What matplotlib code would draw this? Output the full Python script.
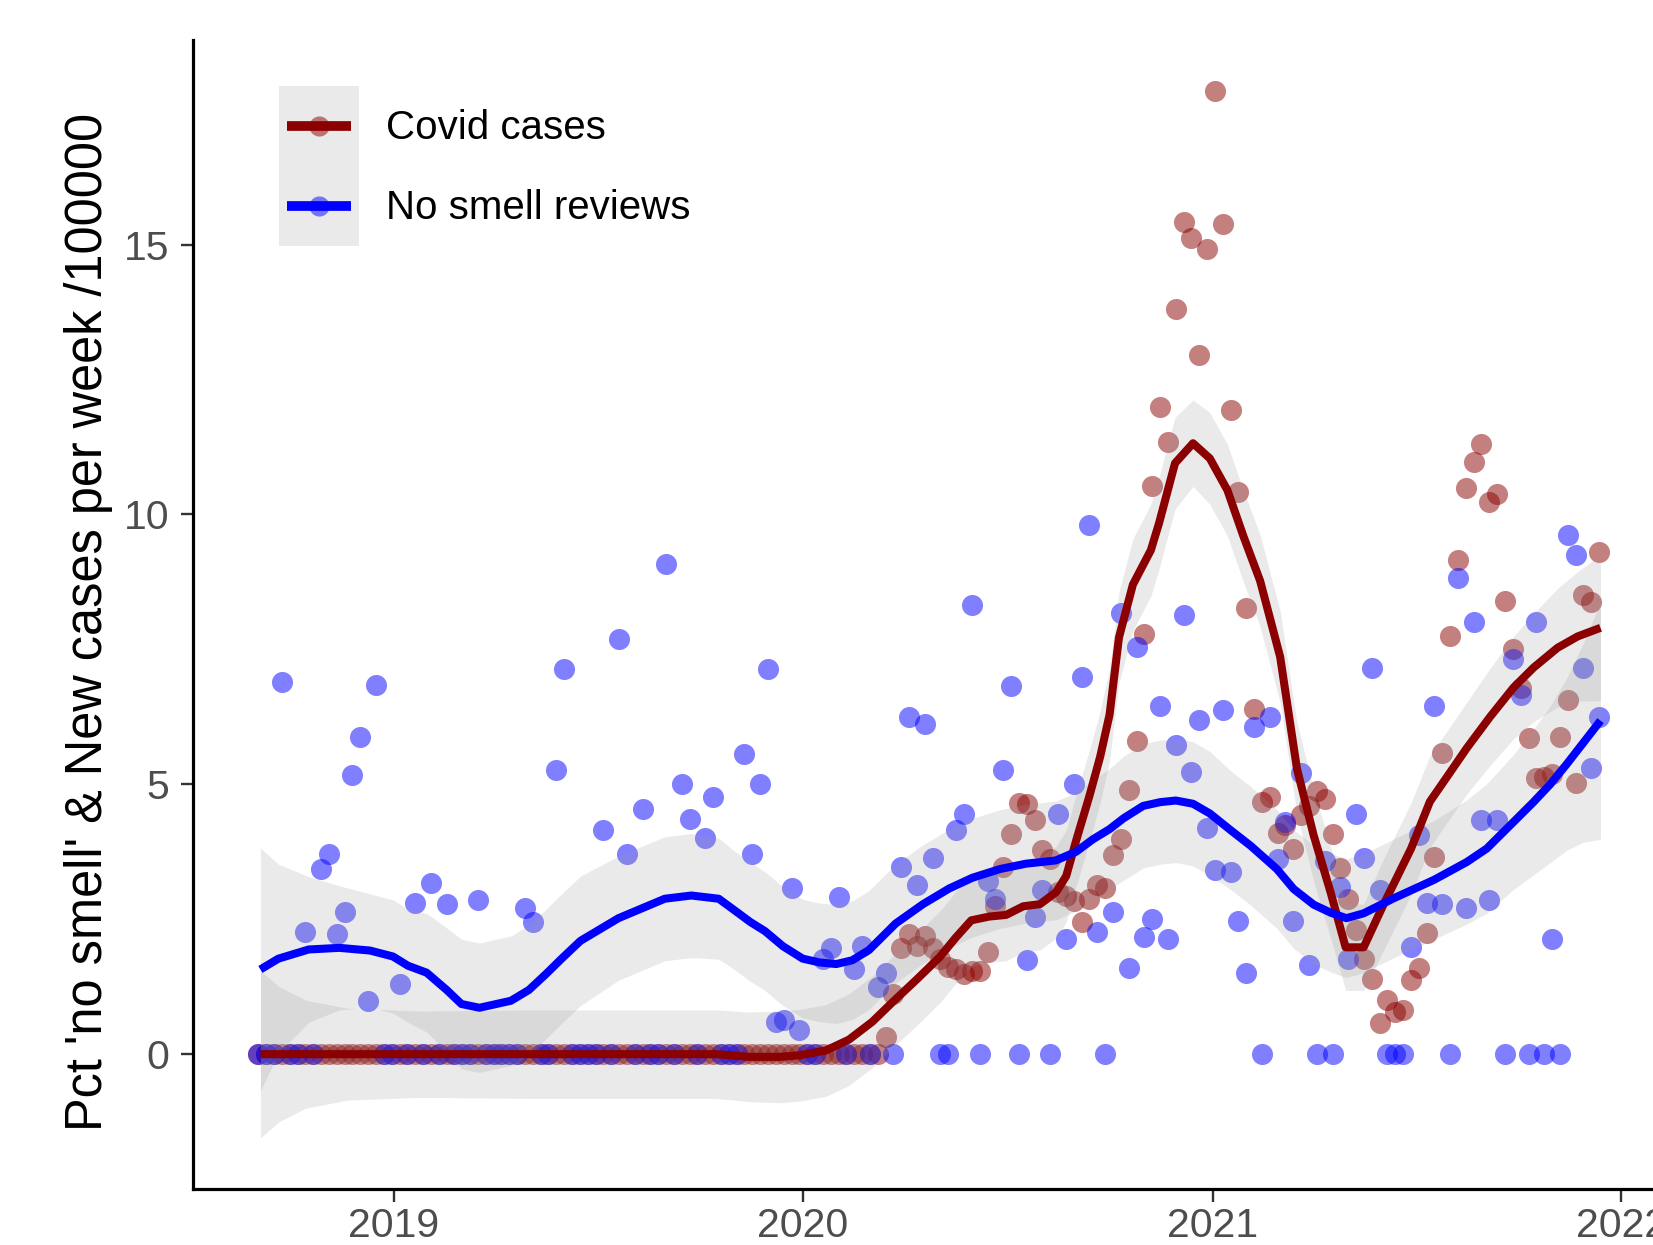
import matplotlib
matplotlib.use("Agg")
import matplotlib.pyplot as plt
import matplotlib.dates as mdates
import pandas as pd
from matplotlib.patches import Rectangle
from matplotlib.lines import Line2D

DARKRED = "#8B0000"
BLUE = "#0000FF"
RIBBON = "#999999"
plt.rcParams["font.family"] = ["Liberation Sans", "DejaVu Sans"]

# weekly observations
weeks = pd.date_range("2018-09-02", periods=172, freq="7D")

covid_cases = [
    0, 0, 0, 0, 0, 0, 0, 0, 0, 0, 0, 0, 0, 0, 0, 0, 0, 0, 0, 0,
    0, 0, 0, 0, 0, 0, 0, 0, 0, 0, 0, 0, 0, 0, 0, 0, 0, 0, 0, 0,
    0, 0, 0, 0, 0, 0, 0, 0, 0, 0, 0, 0, 0, 0, 0, 0, 0, 0, 0, 0,
    0, 0, 0, 0, 0, 0, 0, 0, 0, 0, 0, 0, 0, 0, 0, 0, 0, 0, 0, 0,
    0.31, 1.12, 1.96, 2.23, 2.00, 2.19, 1.96, 1.77, 1.61, 1.58,
    1.48, 1.54, 1.54, 1.90, 2.75, 3.46, 4.08, 4.66, 4.63, 4.34,
    3.78, 3.62, 3.00, 2.94, 2.84, 2.45, 2.87, 3.13, 3.07, 3.69,
    3.98, 4.89, 5.80, 7.78, 10.53, 12.00, 11.35, 13.81, 15.42, 15.13,
    12.95, 14.92, 17.85, 15.38, 11.94, 10.42, 8.26, 6.39, 4.67, 4.76,
    4.10, 4.25, 3.80, 4.43, 4.60, 4.88, 4.72, 4.08, 3.45, 2.87,
    2.31, 1.76, 1.40, 0.57, 1.01, 0.78, 0.82, 1.38, 1.59, 2.25,
    3.65, 5.58, 7.74, 9.16, 10.49, 10.98, 11.31, 10.23, 10.38, 8.40,
    7.50, 6.79, 5.85, 5.11, 5.13, 5.19, 5.88, 6.56, 5.03, 8.50,
    8.38, 9.30,
]

no_smell = [
    0, 0, 0, 6.89, 0, 0, 2.27, 0, 3.44, 3.70,
    2.22, 2.63, 5.17, 5.88, 0.98, 6.84, 0, 0, 1.30, 0,
    2.81, 0, 3.18, 0, 2.78, 0, 0, 0, 2.86, 0,
    0, 0, 0, 0, 2.70, 2.44, 0, 0, 5.26, 7.14,
    0, 0, 0, 0, 4.16, 0, 7.69, 3.70, 0, 4.55,
    0, 0, 9.09, 0, 5.00, 4.35, 0, 4.00, 4.76, 0,
    0, 0, 5.56, 3.70, 5.00, 7.14, 0.60, 0.63, 3.07, 0.45,
    0, 0, 1.77, 1.96, 2.91, 0, 1.58, 2.00, 0, 1.25,
    1.51, 0, 3.46, 6.25, 3.13, 6.12, 3.63, 0, 0, 4.16,
    4.45, 8.33, 0, 3.20, 2.87, 5.26, 6.82, 0, 1.75, 2.55,
    3.05, 0, 4.45, 2.14, 5.00, 6.98, 9.80, 2.27, 0, 2.63,
    8.17, 1.59, 7.55, 2.17, 2.51, 6.45, 2.13, 5.73, 8.14, 5.23,
    6.20, 4.19, 3.41, 6.38, 3.37, 2.47, 1.51, 6.06, 0, 6.25,
    3.62, 4.31, 2.47, 5.21, 1.65, 0, 3.58, 0, 3.09, 1.76,
    4.45, 3.64, 7.16, 3.04, 0, 0, 0, 1.98, 4.07, 2.80,
    6.45, 2.78, 0, 8.83, 2.71, 8.00, 4.34, 2.86, 4.34, 0,
    7.33, 6.66, 0, 8.00, 0, 2.13, 0, 9.62, 9.25, 7.16,
    5.30, 6.25,
]

# loess fits (decimal year, fit, half width of the band)
covid_fit_t = [
    2018.673, 2018.719, 2018.784, 2018.887, 2019.067, 2019.325, 2019.582,
    2019.789, 2019.869, 2019.943, 2019.992, 2020.057, 2020.113, 2020.170,
    2020.219, 2020.278, 2020.335, 2020.374, 2020.412, 2020.456, 2020.497,
    2020.539, 2020.580, 2020.619, 2020.644, 2020.668, 2020.701, 2020.727,
    2020.750, 2020.773, 2020.807, 2020.851, 2020.871, 2020.910, 2020.954,
    2020.995, 2021.036, 2021.075, 2021.116, 2021.165, 2021.206, 2021.247,
    2021.289, 2021.325, 2021.369, 2021.415, 2021.485, 2021.531, 2021.572,
    2021.621, 2021.678, 2021.735, 2021.784, 2021.843, 2021.892, 2021.948,
]
covid_fit = [
    0.0, 0.0, 0.0, 0.0, 0.0, 0.0, 0.0,
    0.0, -0.05, -0.05, -0.02, 0.07, 0.27, 0.60,
    0.96, 1.38, 1.80, 2.16, 2.48, 2.55, 2.58,
    2.74, 2.78, 3.00, 3.30, 3.95, 4.79, 5.51,
    6.29, 7.72, 8.70, 9.34, 9.84, 10.95, 11.32,
    11.04, 10.45, 9.60, 8.77, 7.36, 5.29, 4.05,
    2.98, 1.98, 1.98, 2.73, 3.81, 4.68, 5.13,
    5.67, 6.25, 6.79, 7.16, 7.53, 7.74, 7.90,
]
covid_se = [
    1.55, 1.25, 1.0, 0.85, 0.8, 0.82, 0.82,
    0.82, 0.83, 0.85, 0.85, 0.85, 0.85, 0.85,
    0.85, 0.85, 0.85, 0.85, 0.85, 0.85, 0.85,
    0.85, 0.85, 0.85, 0.85, 0.85, 0.85, 0.85,
    0.85, 0.85, 0.85, 0.85, 0.85, 0.85, 0.8,
    0.85, 0.85, 0.85, 0.85, 0.85, 0.85, 0.85,
    0.85, 0.8, 0.8, 0.85, 0.85, 0.85, 0.85,
    0.85, 0.9, 0.95, 1.0, 1.1, 1.2, 1.35,
]

smell_fit_t = [
    2018.673, 2018.717, 2018.791, 2018.866, 2018.941, 2018.997, 2019.034,
    2019.080, 2019.129, 2019.165, 2019.209, 2019.286, 2019.330, 2019.371,
    2019.410, 2019.456, 2019.549, 2019.662, 2019.727, 2019.794, 2019.830,
    2019.871, 2019.907, 2019.951, 2020.000, 2020.041, 2020.082, 2020.121,
    2020.162, 2020.227, 2020.294, 2020.358, 2020.415, 2020.482, 2020.546,
    2020.619, 2020.668, 2020.709, 2020.750, 2020.784, 2020.832, 2020.874,
    2020.912, 2020.954, 2020.995, 2021.044, 2021.093, 2021.157, 2021.198,
    2021.247, 2021.289, 2021.327, 2021.369, 2021.443, 2021.541, 2021.621,
    2021.670, 2021.735, 2021.784, 2021.825, 2021.866, 2021.907, 2021.948,
]
smell_fit = [
    1.57, 1.77, 1.94, 1.97, 1.92, 1.81, 1.64,
    1.51, 1.19, 0.93, 0.86, 0.99, 1.19, 1.48,
    1.77, 2.10, 2.52, 2.88, 2.94, 2.88, 2.68,
    2.45, 2.28, 2.00, 1.77, 1.70, 1.67, 1.74,
    1.93, 2.42, 2.78, 3.07, 3.27, 3.43, 3.53,
    3.59, 3.75, 3.98, 4.17, 4.37, 4.60, 4.67,
    4.70, 4.64, 4.46, 4.15, 3.86, 3.43, 3.06,
    2.77, 2.62, 2.52, 2.61, 2.89, 3.23, 3.56,
    3.81, 4.30, 4.67, 5.00, 5.38, 5.78, 6.18,
]
smell_se = [
    2.25, 1.75, 1.35, 1.15, 1.05, 1.05, 1.05,
    1.1, 1.15, 1.2, 1.2, 1.2, 1.2, 1.2,
    1.2, 1.2, 1.15, 1.15, 1.15, 1.12, 1.1,
    1.1, 1.1, 1.1, 1.1, 1.1, 1.1, 1.1,
    1.1, 1.1, 1.1, 1.1, 1.1, 1.1, 1.1,
    1.1, 1.1, 1.1, 1.12, 1.15, 1.15, 1.15,
    1.15, 1.15, 1.15, 1.1, 1.1, 1.1, 1.1,
    1.1, 1.1, 1.1, 1.1, 1.1, 1.1, 1.15,
    1.2, 1.25, 1.35, 1.45, 1.6, 1.85, 2.2,
]

series_labels = ["Covid cases", "No smell reviews"]
y_label = "Pct 'no smell' & New cases per week /100000"


def to_date(t):
    year = int(t)
    return pd.Timestamp(f"{year}-01-01") + pd.Timedelta(days=(t - year) * 365.25)


covid_dates = [to_date(t) for t in covid_fit_t]
smell_dates = [to_date(t) for t in smell_fit_t]

fig = plt.figure(figsize=(16.53, 12.45), dpi=100)
ax = fig.add_axes([0.1167, 0.0449, 0.8833, 0.9229])

# points
ax.scatter(weeks, covid_cases, s=230, color=DARKRED, alpha=0.5, linewidths=0, zorder=2)
ax.scatter(weeks, no_smell, s=230, color=BLUE, alpha=0.5, linewidths=0, zorder=2)

# confidence bands
lo = [f - s for f, s in zip(covid_fit, covid_se)]
hi = [f + s for f, s in zip(covid_fit, covid_se)]
ax.fill_between(covid_dates, lo, hi, color=RIBBON, alpha=0.2, linewidth=0, zorder=3)
lo = [f - s for f, s in zip(smell_fit, smell_se)]
hi = [f + s for f, s in zip(smell_fit, smell_se)]
ax.fill_between(smell_dates, lo, hi, color=RIBBON, alpha=0.2, linewidth=0, zorder=3)

# fitted lines
ax.plot(covid_dates, covid_fit, color=DARKRED, lw=5.8, zorder=4, solid_capstyle="butt")
ax.plot(smell_dates, smell_fit, color=BLUE, lw=5.8, zorder=5, solid_capstyle="butt")

# axes styling (classic look)
ax.set_xlim(to_date(2018.508), to_date(2022.077))
ax.set_ylim(-2.5, 18.79)
ax.set_yticks([0, 5, 10, 15])
ax.xaxis.set_major_locator(mdates.YearLocator())
ax.xaxis.set_major_formatter(mdates.DateFormatter("%Y"))
for side in ["top", "right"]:
    ax.spines[side].set_visible(False)
for side in ["left", "bottom"]:
    ax.spines[side].set_linewidth(2.3)
    ax.spines[side].set_color("black")
ax.tick_params(axis="both", length=9, width=1.7, color="#333333",
               labelsize=29.5, labelcolor="#4D4D4D")
ax.tick_params(axis="y", pad=8)
ax.tick_params(axis="x", pad=4)
ax.text(-0.0712, 0.4935, y_label, rotation=90, ha="center", va="center",
        fontsize=36.4, transform=ax.transAxes)


class KeyHandler:
    def __init__(self, color):
        self.color = color

    def legend_artist(self, legend, orig_handle, fontsize, handlebox):
        x0, y0 = -handlebox.xdescent, -handlebox.ydescent
        w, h = handlebox.width, handlebox.height
        handlebox.add_artist(Rectangle((x0, y0), w, h, facecolor=RIBBON, alpha=0.2,
                                       edgecolor="none"))
        handlebox.add_artist(Line2D([x0 + w / 2], [y0 + h / 2], marker="o", markersize=14.5,
                                    color=self.color, alpha=0.5, markeredgewidth=0,
                                    linestyle="none"))
        line = Line2D([x0 + 0.1 * w, x0 + 0.9 * w], [y0 + h / 2] * 2, color=self.color,
                      lw=7, solid_capstyle="butt")
        handlebox.add_artist(line)
        return line


h1, h2 = object(), object()
ax.legend([h1, h2], series_labels,
          handler_map={h1: KeyHandler(DARKRED), h2: KeyHandler(BLUE)},
          loc="upper left", bbox_to_anchor=(0.0592, 0.9597), frameon=False,
          fontsize=29, handlelength=1.99, handleheight=2.68, labelspacing=0,
          handletextpad=0.65, borderpad=0, borderaxespad=0)

fig.savefig("out.png", dpi=100)
